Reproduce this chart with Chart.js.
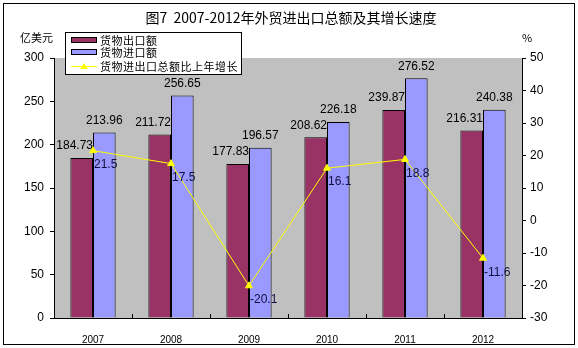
<!DOCTYPE html>
<html>
<head>
<meta charset="utf-8">
<script src="https://cdn.jsdelivr.net/npm/chart.js@4.4.1/dist/chart.umd.min.js"></script>
<style>
  html, body { margin: 0; padding: 0; background: #ffffff; }
  #wrap { width: 578px; height: 348px; }
</style>
</head>
<body>
<div id="wrap"><canvas id="c" width="578" height="348"></canvas></div>
<script>
// 2007-2012 goods trade (100 million USD) and growth of total trade (%)
const years = ['2007', '2008', '2009', '2010', '2011', '2012'];
const exportValues = [184.73, 211.72, 177.83, 208.62, 239.87, 216.31];
const importValues = [213.96, 256.65, 196.57, 226.18, 276.52, 240.38];
const growthRates = [21.5, 17.5, -20.1, 16.1, 18.8, -11.6];

const seriesNames = ['货物出口额', '货物进口额', '货物进出口总额比上年增长'];
const titleText = '图7  2007-2012年外贸进出口总额及其增长速度';
const leftUnit = '亿美元';
const rightUnit = '%';

const numFont = '"Liberation Sans", Arial, sans-serif';
const cjkFont = '"Noto Sans CJK SC", "Noto Sans", sans-serif';

// Frame, grey plot background, title, unit captions, inner x ticks
const decorPlugin = {
  id: 'decor',
  beforeDraw(chart) {
    const { ctx, chartArea: a } = chart;
    ctx.save();
    ctx.fillStyle = '#ffffff';
    ctx.fillRect(0, 0, chart.width, chart.height);
    ctx.fillStyle = '#c0c0c0';
    ctx.fillRect(a.left, a.top, a.right - a.left, a.bottom - a.top);
    ctx.restore();
  },
  afterDraw(chart) {
    const { ctx, chartArea: a } = chart;
    ctx.save();
    // outer frame
    ctx.strokeStyle = '#000000';
    ctx.lineWidth = 1;
    ctx.strokeRect(3.5, 3.5, chart.width - 7, chart.height - 7);
    // title
    ctx.fillStyle = '#000000';
    ctx.font = '14px ' + cjkFont;
    ctx.textAlign = 'center';
    ctx.textBaseline = 'middle';
    ctx.fillText(titleText, 291, 18);
    // unit captions
    ctx.font = '11px ' + cjkFont;
    ctx.textAlign = 'left';
    ctx.fillText(leftUnit, 20, 38);
    ctx.fillText(rightUnit, 522, 38);
    // x-axis tick marks between categories, pointing into the plot
    const xs = chart.scales.x;
    ctx.beginPath();
    for (let i = 1; i < years.length; i++) {
      const px = Math.round((xs.getPixelForTick(i - 1) + xs.getPixelForTick(i)) / 2) + 0.5;
      ctx.moveTo(px, a.bottom);
      ctx.lineTo(px, a.bottom - 4);
    }
    ctx.stroke();
    ctx.restore();
  }
};

// Value labels on bars and growth points
const labelPlugin = {
  id: 'valueLabels',
  afterDatasetsDraw(chart) {
    const { ctx } = chart;
    ctx.save();
    ctx.font = '12px ' + numFont;
    ctx.textBaseline = 'middle';
    const m0 = chart.getDatasetMeta(0);
    ctx.fillStyle = '#000000';
    ctx.textAlign = 'right';
    m0.data.forEach((bar, i) => {
      ctx.fillText(exportValues[i].toFixed(2), bar.x + bar.width / 2, bar.y - 12);
    });
    const m1 = chart.getDatasetMeta(1);
    ctx.textAlign = 'center';
    m1.data.forEach((bar, i) => {
      ctx.fillText(importValues[i].toFixed(2), bar.x, bar.y - 12);
    });
    const m2 = chart.getDatasetMeta(2);
    ctx.fillStyle = '#101040';
    ctx.textAlign = 'left';
    m2.data.forEach((pt, i) => {
      ctx.fillText(String(growthRates[i]), pt.x + 1, pt.y + 14);
    });
    ctx.restore();
  }
};

// Boxed legend placed over the upper-left part of the plot
const legendPlugin = {
  id: 'boxLegend',
  afterDraw(chart) {
    const { ctx } = chart;
    const x0 = 65, y0 = 32, w = 176, h = 42;
    ctx.save();
    ctx.fillStyle = '#ffffff';
    ctx.fillRect(x0, y0, w, h);
    ctx.strokeStyle = '#000000';
    ctx.lineWidth = 1;
    ctx.strokeRect(x0 + 0.5, y0 + 0.5, w, h);
    ctx.font = '11px ' + cjkFont;
    ctx.textBaseline = 'middle';
    ctx.textAlign = 'left';
    const rows = [40, 52, 66];
    chart.data.datasets.forEach((ds, i) => {
      const y = rows[i];
      if (ds.type === 'line') {
        ctx.strokeStyle = ds.borderColor;
        ctx.beginPath();
        ctx.moveTo(71, y + 0.5);
        ctx.lineTo(97, y + 0.5);
        ctx.stroke();
        ctx.fillStyle = ds.pointBackgroundColor;
        ctx.beginPath();
        ctx.moveTo(84, y - 3);
        ctx.lineTo(88, y + 3);
        ctx.lineTo(80, y + 3);
        ctx.closePath();
        ctx.fill();
      } else {
        ctx.fillStyle = ds.backgroundColor;
        ctx.fillRect(71, y - 3, 26, 6);
        ctx.strokeStyle = '#000000';
        ctx.strokeRect(71.5, y - 2.5, 25, 5);
      }
      ctx.fillStyle = '#000000';
      ctx.letterSpacing = '0.5px';
      ctx.fillText(ds.label, 100, y + 1);
      ctx.letterSpacing = '0px';
    });
    ctx.restore();
  }
};

new Chart(document.getElementById('c'), {
  data: {
    labels: years,
    datasets: [
      {
        type: 'bar', label: seriesNames[0], data: exportValues, yAxisID: 'y',
        backgroundColor: '#993366', borderColor: '#000000', borderWidth: 1,
        borderSkipped: 'bottom', barPercentage: 1.0, categoryPercentage: 0.58, order: 2
      },
      {
        type: 'bar', label: seriesNames[1], data: importValues, yAxisID: 'y',
        backgroundColor: '#9999ff', borderColor: '#000000', borderWidth: 1,
        borderSkipped: 'bottom', barPercentage: 1.0, categoryPercentage: 0.58, order: 2
      },
      {
        type: 'line', label: seriesNames[2], data: growthRates, yAxisID: 'y1',
        borderColor: '#ffff00', borderWidth: 1, tension: 0,
        pointStyle: 'triangle', pointRadius: 4, pointHoverRadius: 4,
        pointBackgroundColor: '#ffff00', pointBorderColor: '#ffff00', order: 1
      }
    ]
  },
  options: {
    responsive: false,
    animation: false,
    devicePixelRatio: 1,
    layout: { padding: { top: 58, left: 0, right: 0, bottom: 0 } },
    plugins: { legend: { display: false }, title: { display: false }, tooltip: { enabled: false } },
    scales: {
      x: {
        grid: { display: false },
        border: { display: true, color: '#000000', width: 1 },
        ticks: { color: '#000000', font: { family: numFont, size: 10 }, padding: 8, maxRotation: 0 },
        afterFit(s) { s.height = 30; }
      },
      y: {
        position: 'left', min: 0, max: 300,
        ticks: { stepSize: 50, color: '#000000', font: { family: numFont, size: 12 }, padding: 6 },
        grid: { drawOnChartArea: false, drawTicks: true, tickLength: 4, color: '#000000' },
        border: { display: true, color: '#000000', width: 1 },
        afterFit(s) { s.width = 54; }
      },
      y1: {
        position: 'right', min: -30, max: 50,
        ticks: { stepSize: 10, color: '#000000', font: { family: numFont, size: 12 }, padding: 4 },
        grid: { drawOnChartArea: false, drawTicks: true, tickLength: 4, color: '#000000' },
        border: { display: true, color: '#000000', width: 1 },
        afterFit(s) { s.width = 56; }
      }
    }
  },
  plugins: [decorPlugin, labelPlugin, legendPlugin]
});
</script>
</body>
</html>
